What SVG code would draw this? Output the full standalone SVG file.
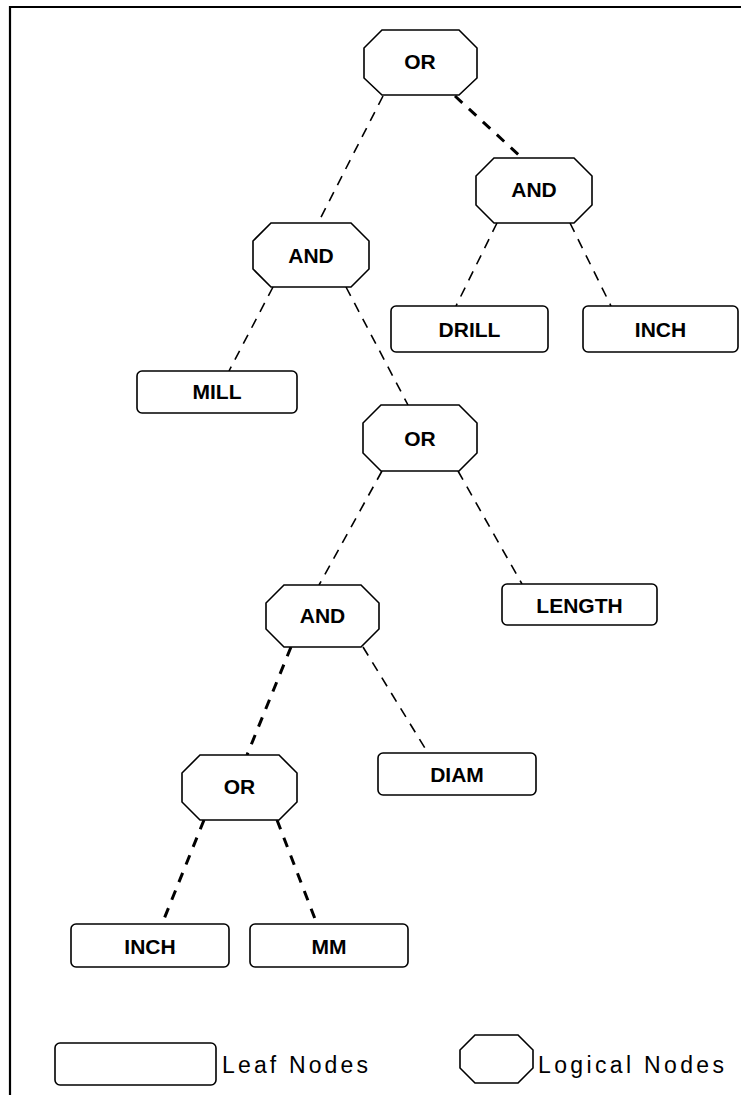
<svg xmlns="http://www.w3.org/2000/svg" width="741" height="1095" viewBox="0 0 741 1095">
<style>
.shape{fill:#fff;stroke:#000;stroke-width:1.6}
.lbl{font-family:"Liberation Sans",Arial,sans-serif;font-weight:bold;font-size:21px;text-anchor:middle;fill:#000}
.leg{font-family:"Liberation Sans",Arial,sans-serif;font-size:23px;fill:#000}
.thin{stroke:#000;stroke-width:1.6;stroke-dasharray:10 8;fill:none}
.thick{stroke:#000;stroke-width:3;stroke-dasharray:10 9;fill:none}
</style>
<rect x="0" y="0" width="741" height="1095" fill="#fff"/>
<path d="M10,1095 V7 H741" fill="none" stroke="#000" stroke-width="2.2"/>
<g id="connectors">
<line class="thin" x1="383" y1="96" x2="318" y2="223"/>
<line class="thick" x1="455" y1="96" x2="522" y2="158"/>
<line class="thin" x1="497" y1="223" x2="456" y2="306"/>
<line class="thin" x1="570" y1="223" x2="611" y2="306"/>
<line class="thin" x1="273" y1="287" x2="229" y2="371"/>
<line class="thin" x1="346" y1="287" x2="408" y2="405"/>
<line class="thin" x1="382" y1="471" x2="319" y2="585"/>
<line class="thin" x1="458" y1="471" x2="522" y2="584"/>
<line class="thick" x1="291" y1="647" x2="247" y2="755"/>
<line class="thin" x1="363" y1="647" x2="428" y2="753"/>
<line class="thick" x1="204" y1="820" x2="162" y2="924"/>
<line class="thick" x1="277" y1="820" x2="317" y2="924"/>
</g>
<g id="or1"><polygon class="shape" points="382,30 459,30 477,48 477,78 459,95 382,95 364,78 364,48"/><text class="lbl" x="420" y="69">OR</text></g>
<g id="and1"><polygon class="shape" points="494,158 574,158 592,176 592,205 574,223 494,223 476,205 476,176"/><text class="lbl" x="534" y="197">AND</text></g>
<g id="and2"><polygon class="shape" points="271,223 351,223 369,241 369,269 351,287 271,287 253,269 253,241"/><text class="lbl" x="311" y="263">AND</text></g>
<g id="drill"><rect class="shape" x="391" y="306" width="157" height="46" rx="5"/><text class="lbl" x="469.5" y="337">DRILL</text></g>
<g id="inch1"><rect class="shape" x="583" y="306" width="155" height="46" rx="5"/><text class="lbl" x="660.5" y="337">INCH</text></g>
<g id="mill"><rect class="shape" x="137" y="371" width="160" height="42" rx="5"/><text class="lbl" x="217" y="399">MILL</text></g>
<g id="or2"><polygon class="shape" points="381,405 459,405 477,423 477,453 459,471 381,471 363,453 363,423"/><text class="lbl" x="420" y="446">OR</text></g>
<g id="and3"><polygon class="shape" points="284,585 361,585 379,603 379,629 361,647 284,647 266,629 266,603"/><text class="lbl" x="322.5" y="623">AND</text></g>
<g id="length"><rect class="shape" x="502" y="584" width="155" height="41" rx="5"/><text class="lbl" x="579.5" y="613">LENGTH</text></g>
<g id="diam"><rect class="shape" x="378" y="753" width="158" height="42" rx="5"/><text class="lbl" x="457" y="782">DIAM</text></g>
<g id="or3"><polygon class="shape" points="200,755 279,755 297,773 297,802 279,820 200,820 182,802 182,773"/><text class="lbl" x="239.5" y="794">OR</text></g>
<g id="inch2"><rect class="shape" x="71" y="924" width="158" height="43" rx="5"/><text class="lbl" x="150" y="954">INCH</text></g>
<g id="mm"><rect class="shape" x="250" y="924" width="158" height="43" rx="5"/><text class="lbl" x="329" y="954">MM</text></g>
<g id="legend-leaf"><rect class="shape" x="55" y="1043" width="161" height="42" rx="5"/><text class="leg" x="222" y="1073" textLength="146" lengthAdjust="spacing">Leaf Nodes</text></g>
<g id="legend-logical"><polygon class="shape" points="475,1035 518,1035 533,1050 533,1068 518,1083 475,1083 460,1068 460,1050"/><text class="leg" x="538" y="1073" textLength="186" lengthAdjust="spacing">Logical Nodes</text></g>
</svg>
